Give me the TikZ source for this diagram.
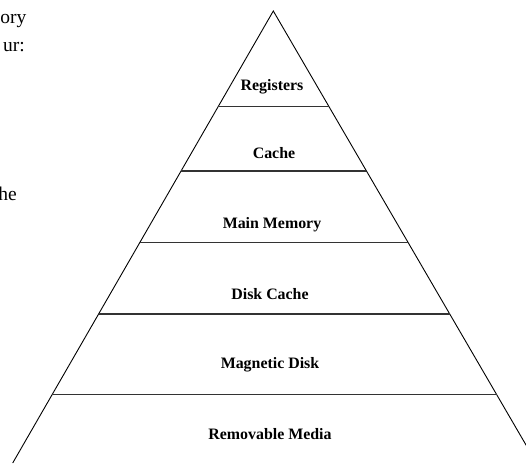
\documentclass[tikz,border=0pt]{standalone}
\usepackage{fontspec}
\setmainfont{Liberation Serif}
\usetikzlibrary{calc}
\tikzset{
  edge/.style={line width=0.9pt, black},
  level/.style={line width=1.1pt, black!80},
  lbl/.style={font=\fontsize{15.9pt}{18pt}\selectfont\bfseries, anchor=base, inner sep=0pt},
  body/.style={font=\fontsize{19.5pt}{23pt}\selectfont, anchor=base east, inner sep=0pt}
}
\begin{document}
\begin{tikzpicture}[x=1pt,y=-1pt]
\useasboundingbox (0,0) rectangle (526,464);
\clip (0,0) rectangle (526,464);
\coordinate (apex) at (273.3,11);
\coordinate (bl) at (12.7,463);
\coordinate (br) at (536.5,463);
\draw[edge] (bl) -- (apex) -- (br);
\foreach \f in {0.2117,0.354,0.5122,0.6704,0.8489}{
  \draw[level] ($(apex)!\f!(bl)$) -- ($(apex)!\f!(br)$);
}
\node[lbl] (reg) at (272,90) {Registers};
\node[lbl] (cache) at (274,158) {Cache};
\node[lbl] (mm) at (272,228) {Main Memory};
\node[lbl] (dc) at (270,299) {Disk Cache};
\node[lbl] (md) at (270,368) {Magnetic Disk};
\node[lbl] (rm) at (270,439) {Removable Media};
\node[body] (t1) at (26.5,23) {ory};
\node[body, anchor=base west] (t2) at (3,51) {ur:};
\node[body] (t3) at (17,200) {he};
\end{tikzpicture}
\end{document}
